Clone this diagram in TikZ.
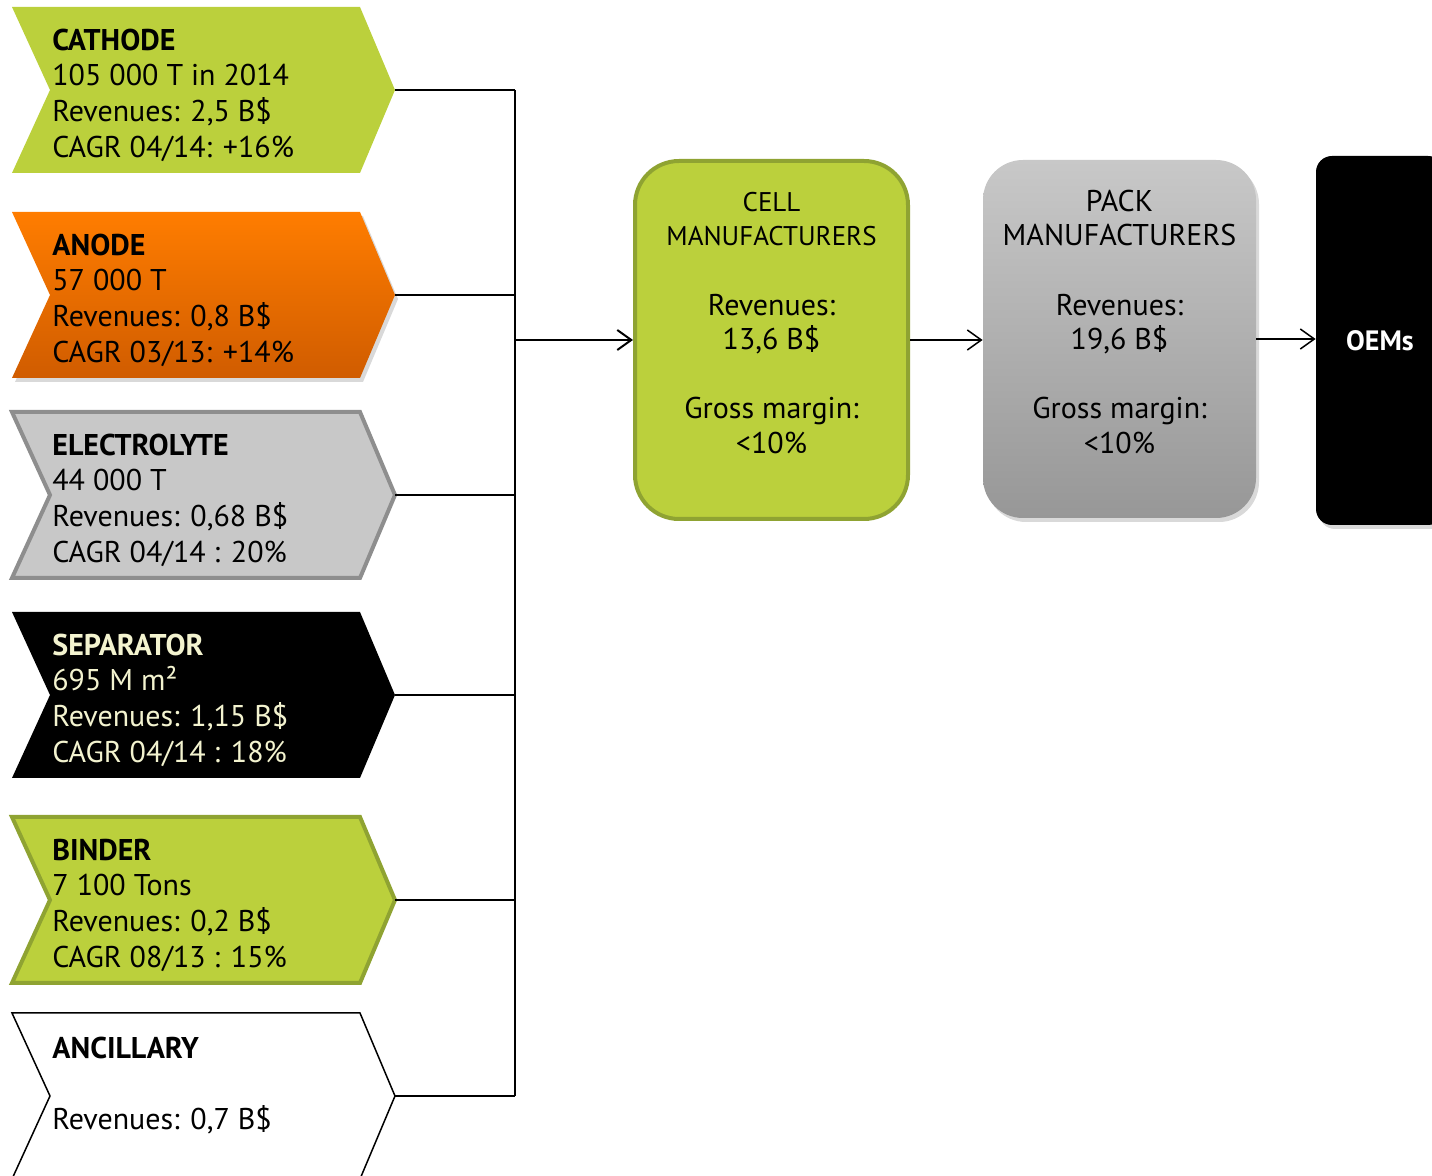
\documentclass[tikz,border=0pt]{standalone}
\usepackage{fontspec}
\setmainfont{PT Sans}
\usetikzlibrary{arrows.meta,positioning,shadows,calc}
\definecolor{lime}{HTML}{BBD03C}
\definecolor{limeedge}{HTML}{8FA332}
\definecolor{orgtop}{HTML}{FF7D00}
\definecolor{orgbot}{HTML}{D05C00}
\definecolor{elyte}{HTML}{C8C8C8}
\definecolor{elyteedge}{HTML}{8E8E8E}
\definecolor{cream}{HTML}{F3F3CF}
\definecolor{packtop}{HTML}{C8C8C8}
\definecolor{packbot}{HTML}{979797}
\newcommand{\hd}{\fontsize{13.5}{17.3}\selectfont}

\begin{document}
\begin{tikzpicture}[x=0.5pt, y=-0.5pt,
    chev/.style={insert path={(12,#1) -- ++(348,0) -- ++(35,83) -- ++(-35,83) -- ++(-348,0) -- ++(38,-83) -- cycle}},
    txt/.style={anchor=west, align=left, inner sep=0pt, font=\fontsize{15}{17.85}\selectfont},
    box/.style={rounded corners=22pt, minimum width=136.5pt, minimum height=179pt, align=center, inner sep=0pt, font=\fontsize{15}{17.3}\selectfont},
    shd/.style={drop shadow={opacity=0.3, shadow xshift=1.5pt, shadow yshift=-2pt}},
    wire/.style={line width=0.75pt},
    arr/.style={-{Straight Barb[length=7pt,width=10pt]}, line width=0.75pt}
]
\useasboundingbox (0,0) rectangle (1432,1176);

% supplier chevrons
\path[fill=lime, chev=7];
\path[top color=orgtop, bottom color=orgbot, shd, chev=212];
\path[fill=elyte, draw=elyteedge, line width=2pt, chev=412];
\path[fill=black, chev=612];
\path[fill=lime, draw=limeedge, line width=2pt, chev=817];
\path[fill=white, draw=black, line width=0.75pt, chev=1013];

\coordinate (cathtip) at (395,90);
\coordinate (anodetip) at (395,295);
\coordinate (elytetip) at (395,495);
\coordinate (septip) at (395,695);
\coordinate (bindtip) at (395,900);
\coordinate (anctip) at (395,1096);

\node[txt] (cathode) at (52,95) {\textbf{CATHODE}\\105 000 T in 2014\\Revenues: 2,5 B\$\\CAGR 04/14: +16\%};
\node[txt] (anode) at (52,300) {\textbf{ANODE}\\57 000 T\\Revenues: 0,8 B\$\\CAGR 03/13: +14\%};
\node[txt] (elyte) at (52,500) {\textbf{ELECTROLYTE}\\44 000 T\\Revenues: 0,68 B\$\\CAGR 04/14 : 20\%};
\node[txt, text=cream] (separator) at (52,700) {\textbf{SEPARATOR}\\695 M m²\\Revenues: 1,15 B\$\\CAGR 04/14 : 18\%};
\node[txt] (binder) at (52,905) {\textbf{BINDER}\\7 100 Tons\\Revenues: 0,2 B\$\\CAGR 08/13 : 15\%};
\node[txt] (ancillary) at (52,1101) {\textbf{ANCILLARY}\\~\\Revenues: 0,7 B\$\\~};

% value chain boxes
\node[box, fill=lime, draw=limeedge, line width=2pt] (cell) at (771.5,340)
    {\hd CELL\\\hd MANUFACTURERS\\~\\Revenues:\\13,6 B\$\\~\\Gross margin:\\<10\%\\~};
\node[box, top color=packtop, bottom color=packbot, shd, rounded corners=20pt] (pack) at (1119.5,339)
    {PACK\\MANUFACTURERS\\~\\Revenues:\\19,6 B\$\\~\\Gross margin:\\<10\%\\~};
\node[fill=black, rounded corners=8pt, minimum width=64pt, minimum height=184.5pt, shd,
    text=white, font=\fontsize{14}{16}\selectfont\bfseries] (oem) at (1380,340.5) {OEMs};

% connectors
\coordinate (bus) at (515,340);
\foreach \t in {cathtip,anodetip,elytetip,septip,bindtip,anctip}
  \draw[wire] (\t) -- (\t -| bus);
\draw[wire] (cathtip -| bus) -- (anctip -| bus);
\draw[arr, line width=1pt] (bus) -- (cell);
\draw[arr] (cell.east) -- (cell.east -| pack.west);
\draw[arr] (pack.east) -- (pack.east -| oem.west);
\end{tikzpicture}
\end{document}
